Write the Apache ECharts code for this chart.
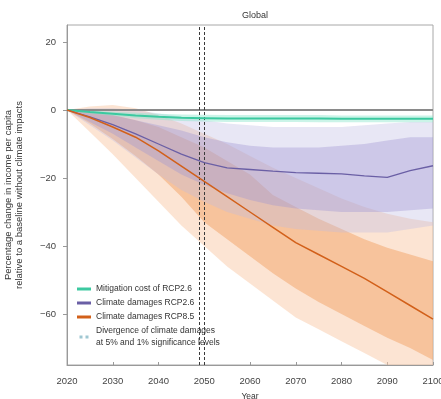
<!DOCTYPE html>
<html>
<head>
<meta charset="utf-8">
<script src="https://cdn.jsdelivr.net/npm/echarts@6/dist/echarts.min.js"></script>
<style>html,body{margin:0;padding:0;background:#fff;}#chart{width:441px;height:399px;}</style>
</head>
<body>
<div id="chart"></div>
<script>
// ---- data ----
var years = [2020,2025,2030,2035,2040,2045,2050,2055,2060,2065,2070,2075,2080,2085,2090,2095,2100];
var yTicks = [-60,-40,-20,0,20];
var divergenceYears = [2049, 2050];

var mitigationMedian = [0,-0.6,-1.1,-1.6,-2.0,-2.3,-2.4,-2.5,-2.5,-2.5,-2.5,-2.5,-2.6,-2.6,-2.6,-2.6,-2.6];
var mitigationHi     = [0,-0.2,-0.5,-0.8,-1.1,-1.3,-1.4,-1.5,-1.5,-1.5,-1.5,-1.5,-1.6,-1.6,-1.6,-1.6,-1.6];
var mitigationLo     = [0,-1.0,-1.7,-2.4,-2.9,-3.2,-3.4,-3.5,-3.5,-3.5,-3.5,-3.6,-3.6,-3.6,-3.6,-3.6,-3.6];

var rcp26Median  = [0,-2.0,-4.3,-7.0,-10.0,-13.0,-15.5,-17.0,-17.5,-18.0,-18.4,-18.6,-18.8,-19.4,-19.8,-17.8,-16.4];
var rcp26InnerHi = [0,-0.5,-1.5,-3.0,-4.5,-6.0,-8.0,-9.5,-10.5,-11.0,-11.0,-11.0,-10.5,-10.0,-9.0,-8.0,-8.0];
var rcp26InnerLo = [0,-3.5,-7.0,-11.0,-15.0,-19.0,-22.0,-24.5,-26.5,-28.0,-29.0,-29.5,-30.0,-30.0,-30.0,-29.5,-29.0];
var rcp26OuterHi = [0,0.5,0.5,0,-1.0,-2.0,-3.0,-4.0,-4.5,-5.0,-5.0,-5.0,-5.0,-4.5,-4.0,-3.5,-3.5];
var rcp26OuterLo = [0,-4.5,-9.0,-14.0,-19.0,-23.5,-27.0,-30.0,-32.0,-34.0,-35.0,-35.5,-36.0,-36.0,-36.0,-35.0,-34.0];

var rcp85Median  = [0,-2.2,-5.0,-8.0,-12.0,-16.5,-21.0,-25.5,-30.0,-34.5,-39.0,-42.5,-46.0,-49.5,-53.5,-57.5,-61.5];
var rcp85InnerHi = [0,-0.5,-1.5,-3.0,-5.0,-8.0,-11.0,-15.0,-19.0,-25.0,-28.5,-32.0,-35.0,-38.0,-40.5,-42.5,-44.5];
var rcp85InnerLo = [0,-4.0,-8.5,-13.5,-19.0,-25.5,-33.0,-38.0,-43.0,-48.0,-52.5,-56.5,-60.0,-63.5,-67.0,-70.0,-73.5];
var rcp85OuterHi = [0,1.0,1.5,0.5,-1.5,-4.0,-7.0,-10.0,-13.5,-17.0,-20.0,-23.0,-26.0,-28.5,-30.5,-32.0,-33.0];
var rcp85OuterLo = [0,-6.5,-13.0,-20.0,-27.0,-34.0,-40.0,-46.0,-51.0,-56.0,-61.0,-64.5,-68.0,-71.5,-75.0,-79.0,-83.0];

// ---- helpers ----
function pairs(vals){ return years.map(function(y,i){ return [y, vals[i]]; }); }
function band(lo, hi, color){
  return {
    type:'custom', silent:true, z:1, clip:true,
    data: years.map(function(y,i){ return [y, lo[i], hi[i]]; }),
    encode:{x:0, y:[1,2]},
    renderItem:function(params, api){
      if (params.dataIndexInside !== 0) return null;
      var n = params.dataInsideLength, top = [], bot = [];
      for (var k = 0; k < n; k++) {
        var x = api.value(0, k);
        bot.push(api.coord([x, api.value(1, k)]));
        top.push(api.coord([x, api.value(2, k)]));
      }
      var pts = top.concat(bot.reverse());
      var cs = params.coordSys;
      return {
        type:'polygon',
        shape:{points:pts},
        style:{fill:color, stroke:null},
        clipPath:{type:'rect', shape:{x:cs.x, y:cs.y, width:cs.width, height:cs.height}}
      };
    }
  };
}

var FONT = 'Liberation Sans, Arial, sans-serif';
var chart = echarts.init(document.getElementById('chart'), null, {renderer:'canvas'});

var series = [
  band(rcp85OuterLo, rcp85OuterHi, 'rgba(250,202,168,0.5)'),
  band(rcp85InnerLo, rcp85InnerHi, 'rgba(242,165,105,0.52)'),
  band(rcp26OuterLo, rcp26OuterHi, 'rgba(190,185,225,0.35)'),
  band(rcp26InnerLo, rcp26InnerHi, 'rgba(160,150,210,0.38)'),
  band(mitigationLo, mitigationHi, 'rgba(140,230,205,0.45)'),
  {type:'line', name:'zero', data:[], silent:true,
   markLine:{silent:true, symbol:'none', label:{show:false},
     lineStyle:{color:'#8a8a8a', width:2, type:'solid'}, data:[{yAxis:0}]}, z:3},
  {type:'line', name:'Mitigation cost of RCP2.6', data:pairs(mitigationMedian), symbol:'none',
   color:'#3cc9a0', lineStyle:{color:'#3cc9a0', width:2}, z:5},
  {type:'line', name:'Climate damages RCP2.6', data:pairs(rcp26Median), symbol:'none',
   color:'#6a5fa5', lineStyle:{color:'#6a5fa5', width:1.3}, z:5},
  {type:'line', name:'Climate damages RCP8.5', data:pairs(rcp85Median), symbol:'none',
   color:'#d2601a', lineStyle:{color:'#d2601a', width:1.5}, z:5},
  {type:'line', name:'Divergence of climate damages\nat 5% and 1% significance levels', data:[],
   color:'#9fc7d2', lineStyle:{color:'#444', width:1},
   markLine:{silent:true, symbol:'none', label:{show:false},
     lineStyle:{color:'#3a3a3a', width:1, type:[3,2]},
     data: divergenceYears.map(function(y){ return {xAxis:y}; })}, z:6}
];

chart.setOption({
  animation:false,
  backgroundColor:'#ffffff',
  textStyle:{fontFamily:FONT},
  title:{text:'Global', left:250, textAlign:'center', top:6,
    textStyle:{fontSize:9, fontWeight:'normal', color:'#333', fontFamily:FONT}},
  grid:{left:67, right:8, top:25, bottom:34, show:true, borderColor:'#a8a8a8', borderWidth:1,
    backgroundColor:'transparent', containLabel:false, outerBoundsMode:'none'},
  legend:{
    orient:'vertical', left:72, top:278, itemGap:2, itemWidth:14, itemHeight:3,
    textStyle:{fontSize:8.5, color:'#333', fontFamily:FONT, lineHeight:12},
    data:[
      {name:'Mitigation cost of RCP2.6', icon:'rect'},
      {name:'Climate damages RCP2.6', icon:'rect'},
      {name:'Climate damages RCP8.5', icon:'rect'},
      {name:'Divergence of climate damages\nat 5% and 1% significance levels',
       icon:'path://M0,0h4v4h-4z M8,0h4v4h-4z', itemStyle:{color:'#9fc7d2'}}
    ],
    selectedMode:false
  },
  xAxis:{
    type:'value', min:2020, max:2100, interval:10,
    name:'Year', nameLocation:'middle', nameGap:27,
    nameTextStyle:{fontSize:8.5, color:'#333', fontFamily:FONT},
    axisLine:{show:true, onZero:false, lineStyle:{color:'#999', width:1}},
    axisTick:{show:true, inside:true, length:3, lineStyle:{color:'#999'}},
    axisLabel:{fontSize:9.5, color:'#444', margin:11, fontFamily:FONT, showMinLabel:true, showMaxLabel:true,
      formatter:function(v){ return String(v); }},
    splitLine:{show:false}
  },
  yAxis:{
    type:'value', min:-75, max:25,
    name:'Percentage change in income per capita\nrelative to a baseline without climate impacts',
    nameLocation:'middle', nameGap:42, nameRotate:90,
    nameTextStyle:{fontSize:9.5, color:'#333', fontFamily:FONT, lineHeight:11},
    axisLine:{show:true, lineStyle:{color:'#999', width:1}},
    axisTick:{show:true, length:4, customValues:yTicks, lineStyle:{color:'#999'}},
    axisLabel:{fontSize:9.5, color:'#444', margin:11, customValues:yTicks, fontFamily:FONT,
      formatter:function(v){ return v < 0 ? '\u2212' + Math.abs(v) : String(v); }},
    splitLine:{show:false}
  },
  series:series
});
</script>
</body>
</html>
